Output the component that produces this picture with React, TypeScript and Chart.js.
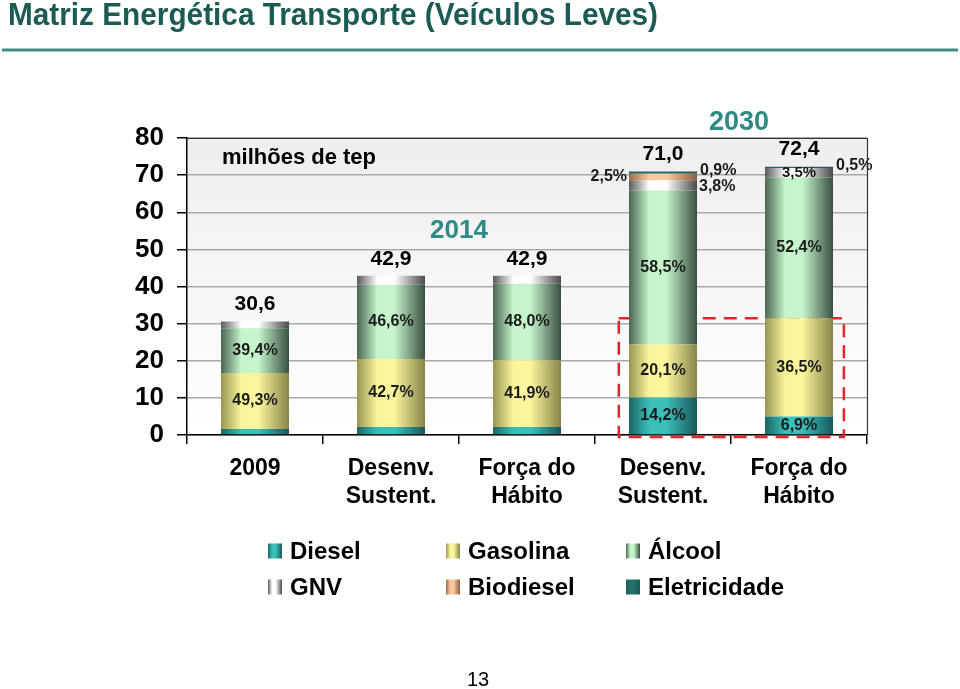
import React, { useEffect, useRef } from "react";
import { Chart, registerables } from "chart.js";
Chart.register(...registerables);

// ---- data ----
const categories = [["2009"], ["Desenv.", "Sustent."], ["Força do", "Hábito"], ["Desenv.", "Sustent."], ["Força do", "Hábito"]];
const periodLabels = ["2014", "2030"];
const totals = [30.6, 42.9, 42.9, 71.0, 72.4];
const seriesNames = ["Diesel", "Gasolina", "Álcool", "GNV", "Biodiesel", "Eletricidade"];
const dieselShare = [5.2, 5.0, 5.1, 14.2, 6.9];
const gasolinaShare = [49.3, 42.7, 41.9, 20.1, 36.5];
const alcoolShare = [39.4, 46.6, 48.0, 58.5, 52.4];
const gnvShare = [6.1, 5.7, 5.0, 3.8, 3.5];
const biodieselShare = [0, 0, 0, 2.5, 0];
const eletricidadeShare = [0, 0, 0, 0.9, 0.5];
const yMin = 0;
const yMax = 80;
const yStep = 10;
const unitLabel = "milhões de tep";
const titleText = "Matriz Energética Transporte (Veículos Leves)";
const pageNumber = "13";

const shares = [dieselShare, gasolinaShare, alcoolShare, gnvShare, biodieselShare, eletricidadeShare];

// ---- style ----
const F = "'Liberation Sans', Arial, Helvetica, sans-serif";
const palette: [string, string, string][] = [
  ["#1a6664", "#3bbfba", "#17585a"],
  ["#999552", "#fbf69c", "#87844a"],
  ["#4a6651", "#c6f5cb", "#37503f"],
  ["#5a5a5a", "#ffffff", "#4a4a4a"],
  ["#9c6c4a", "#fbc89e", "#8c5e40"],
  ["#1c5e5a", "#23706b", "#1a5754"],
];

const fmt = (v: number) => v.toFixed(1).replace(".", ",");

function grad(ctx: CanvasRenderingContext2D, x0: number, x1: number, c: [string, string, string]) {
  const g = ctx.createLinearGradient(x0, 0, x1, 0);
  g.addColorStop(0, c[0]);
  g.addColorStop(0.3, c[1]);
  g.addColorStop(0.55, c[1]);
  g.addColorStop(1, c[2]);
  return g;
}

const decor = {
  id: "decor",
  beforeDraw(chart: any) {
    const { ctx, chartArea: a } = chart;
    ctx.save();
    ctx.fillStyle = "#ffffff";
    ctx.fillRect(0, 0, chart.width, chart.height);
    const g = ctx.createLinearGradient(0, a.top, 0, a.bottom);
    g.addColorStop(0, "#eeeeee");
    g.addColorStop(1, "#ffffff");
    ctx.fillStyle = g;
    ctx.fillRect(a.left, a.top, a.right - a.left, a.bottom - a.top);
    ctx.restore();
  },
  beforeDatasetsDraw(chart: any) {
    const { ctx } = chart;
    const xs = chart.scales.x;
    const ys = chart.scales.y;
    const cw = xs.width / categories.length;
    const left = xs.getPixelForValue(3) - cw * 0.325;
    const right = xs.getPixelForValue(4) + cw * 0.33;
    const top = ys.getPixelForValue((totals[4] * (dieselShare[4] + gasolinaShare[4])) / 100);
    const bottom = ys.getPixelForValue(0) + 2;
    ctx.save();
    ctx.setLineDash([13, 8]);
    ctx.strokeStyle = "#e3262b";
    ctx.lineWidth = 2.5;
    ctx.strokeRect(left, top, right - left, bottom - top);
    ctx.restore();
  },
  afterDatasetsDraw(chart: any) {
    const { ctx } = chart;
    const xs = chart.scales.x;
    const ys = chart.scales.y;
    const a = chart.chartArea;
    ctx.save();
    ctx.fillStyle = "#1a1a1a";
    ctx.textBaseline = "middle";
    shares.forEach((arr, d) => {
      const meta = chart.getDatasetMeta(d);
      arr.forEach((s, i) => {
        if (!(s >= 10 || (i >= 3 && s > 0))) return;
        const bar = meta.data[i];
        const cy = (bar.y + bar.base) / 2;
        const w = bar.width;
        let x = bar.x;
        let y = cy;
        let align: CanvasTextAlign = "center";
        if (s < 5) {
          if (d === 4) {
            align = "right";
            x = bar.x - w / 2 - 2;
          } else if (s < 1) {
            align = "left";
            x = bar.x + w / 2 + 3;
            y = cy - 2;
          } else if (i === 3) {
            align = "left";
            x = bar.x + w / 2 + 2;
            y = cy + 1;
          }
        }
        ctx.font = `bold ${s < 5 && align === "center" ? 15 : 16}px ${F}`;
        ctx.textAlign = align;
        ctx.fillText(fmt(s) + "%", x, y);
      });
    });
    // totals
    ctx.fillStyle = "#000";
    ctx.font = `bold 21px ${F}`;
    ctx.textAlign = "center";
    totals.forEach((t, i) => {
      ctx.fillText(fmt(t), xs.getPixelForValue(i), ys.getPixelForValue(t) - 17);
    });
    // unit
    ctx.font = `bold 22px ${F}`;
    ctx.textAlign = "left";
    ctx.fillText(unitLabel, a.left + 35, a.top + 20);
    // periods
    ctx.fillStyle = "#2e8a85";
    ctx.font = `bold 26px ${F}`;
    ctx.textAlign = "center";
    ctx.fillText(periodLabels[0], (xs.getPixelForValue(1) + xs.getPixelForValue(2)) / 2, ys.getPixelForValue(55));
    ctx.font = `bold 27px ${F}`;
    ctx.fillText(periodLabels[1], (xs.getPixelForValue(3) + xs.getPixelForValue(4)) / 2 + 8, a.top - 15);
    ctx.restore();
  },
  afterDraw(chart: any) {
    const { ctx, chartArea: a } = chart;
    ctx.save();
    // frame top/right
    ctx.strokeStyle = "#333";
    ctx.lineWidth = 1.2;
    ctx.beginPath();
    ctx.moveTo(a.left, a.top + 0.5);
    ctx.lineTo(a.right + 0.5, a.top + 0.5);
    ctx.lineTo(a.right + 0.5, a.bottom);
    ctx.stroke();
    // title
    ctx.fillStyle = "#1c5b55";
    ctx.font = `bold 31px ${F}`;
    ctx.textBaseline = "middle";
    ctx.textAlign = "left";
    ctx.fillText(titleText, 8, 16, 650);
    ctx.strokeStyle = "#3e8c80";
    ctx.lineWidth = 3;
    ctx.beginPath();
    ctx.moveTo(2, 50);
    ctx.lineTo(958, 50);
    ctx.stroke();
    // legend
    const cols = [268, 446, 626];
    const rows = [551, 587];
    seriesNames.forEach((name, k) => {
      const sx = cols[k % 3];
      const sy = rows[Math.floor(k / 3)];
      ctx.fillStyle = grad(ctx, sx, sx + 14, palette[k]);
      ctx.fillRect(sx, sy - 7.5, 14, 15);
      ctx.fillStyle = "#000";
      ctx.font = `bold 24px ${F}`;
      ctx.fillText(name, sx + 22, sy + 1);
    });
    // page number
    ctx.font = `20px ${F}`;
    ctx.textAlign = "center";
    ctx.fillText(pageNumber, 478, 680);
    ctx.restore();
  },
};

export default function App() {
  const ref = useRef<HTMLCanvasElement>(null);
  useEffect(() => {
    const datasets = seriesNames.map((name, d) => ({
      label: name,
      data: shares[d].map((s, i) => (totals[i] * s) / 100),
      borderWidth: 0,
      barPercentage: 0.5,
      categoryPercentage: 1,
      backgroundColor: (c: any) => {
        const col = palette[d];
        const chart = c.chart;
        const xs = chart.scales && chart.scales.x;
        if (c.type !== "data" || !xs || !chart.chartArea) return col[1];
        const cx = xs.getPixelForValue(c.dataIndex);
        const w = (xs.width / categories.length) * 0.5;
        return grad(chart.ctx, cx - w / 2, cx + w / 2, col);
      },
    }));
    const chart = new Chart(ref.current as HTMLCanvasElement, {
      type: "bar",
      data: { labels: categories, datasets },
      plugins: [decor],
      options: {
        responsive: false,
        animation: false,
        layout: { padding: { top: 138, right: 93, bottom: 154, left: 0 } },
        plugins: { legend: { display: false }, tooltip: { enabled: false }, title: { display: false } },
        scales: {
          x: {
            stacked: true,
            offset: true,
            grid: { offset: true, drawOnChartArea: false, drawTicks: true, tickLength: 9, color: "#000", lineWidth: 1.5 },
            border: { color: "#000", width: 1.5 },
            ticks: { color: "#000", font: { family: F, size: 23, weight: "bold", lineHeight: 1.25 }, padding: 10, maxRotation: 0, autoSkip: false },
            afterFit: (s: any) => { s.height = 100; },
          },
          y: {
            stacked: true,
            min: yMin,
            max: yMax,
            ticks: { stepSize: yStep, color: "#000", font: { family: F, size: 26, weight: "bold" }, padding: 13 },
            grid: { color: "#a9a9a9", lineWidth: 1.5, tickColor: "#000", tickLength: 10, tickWidth: 1.5 },
            border: { color: "#000", width: 1.5 },
            afterFit: (s: any) => { s.width = 187; },
          },
        },
      } as any,
    });
    return () => chart.destroy();
  }, []);
  return (
    <div style={{ position: "fixed", left: 0, top: 0, width: 960, height: 689, background: "#fff" }}>
      <canvas ref={ref} width={960} height={689} style={{ display: "block", width: 960, height: 689 }} />
    </div>
  );
}
